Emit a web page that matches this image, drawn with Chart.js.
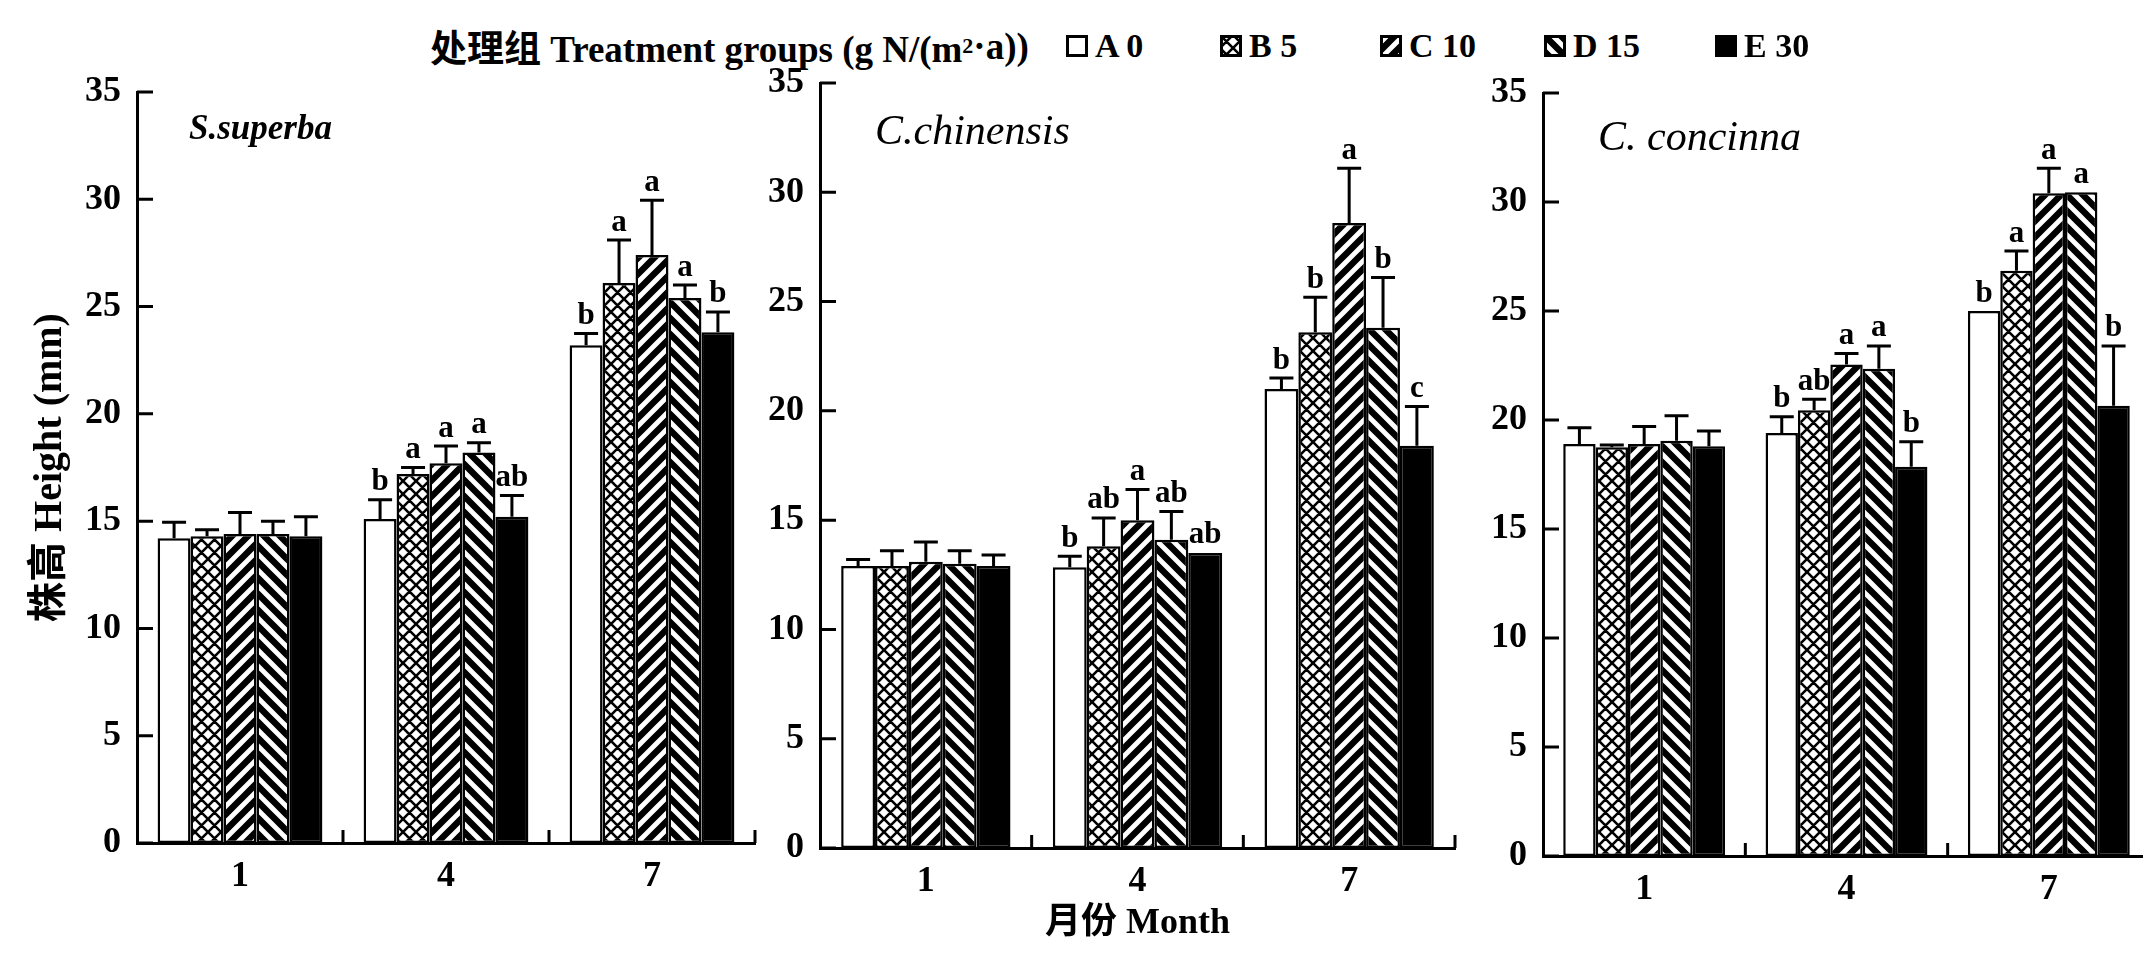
<!DOCTYPE html>
<html>
<head>
<meta charset="utf-8">
<title>株高 Height</title>
<script src="https://cdn.jsdelivr.net/npm/chart.js@4.4.0/dist/chart.umd.min.js"></script>
<style>
  html, body { margin: 0; padding: 0; background: #fff; width: 2143px; height: 953px; overflow: hidden; }
  canvas.panel { position: absolute; left: 0; top: 0; }
  #legend {
    position: absolute; left: 0; top: 24px; width: 2143px; height: 44px;
    font: bold 37px "Liberation Serif", "Noto Sans CJK SC", serif; color: #000; white-space: nowrap;
  }
  #legend > span { position: absolute; top: 0; height: 44px; display: flex; align-items: center; }
  #legend sup { font-size: 22px; line-height: 0; }
  #legend .item { gap: 7px; font-size: 34px; }
  #legend canvas { display: block; }
</style>
</head>
<body>
<div id="legend"></div>
<canvas id="p1" class="panel" width="2160" height="953"></canvas>
<canvas id="p2" class="panel" width="2160" height="953"></canvas>
<canvas id="p3" class="panel" width="2160" height="953"></canvas>

<script>
/* Plant height by month for three species under five N treatments.
   Values; error bars are +SE, letters are the
   significance groups printed above each bar. */
const MONTHS = ["1", "4", "7"];
const GROUPS = ["A 0", "B 5", "C 10", "D 15", "E 30"];
const Y_MIN = 0, Y_MAX = 35, Y_STEP = 5;

// S. superba — rows are groups A..E, columns months 1/4/7
const SS_MEAN = [[14.2, 15.1, 23.2], [14.3, 17.2, 26.1], [14.4, 17.7, 27.4], [14.4, 18.2, 25.4], [14.3, 15.2, 23.8]];
const SS_SE   = [[0.75, 0.9, 0.55], [0.3, 0.3, 2.0], [1.0, 0.8, 2.55], [0.6, 0.45, 0.6], [0.9, 1.0, 0.95]];
const SS_SIG  = [["", "b", "b"], ["", "a", "a"], ["", "a", "a"], ["", "a", "a"], ["", "ab", "b"]];

// C. chinensis
const CC_MEAN = [[12.9, 12.85, 21.0], [12.9, 13.8, 23.6], [13.1, 15.0, 28.6], [13.0, 14.1, 23.8], [12.9, 13.5, 18.4]];
const CC_SE   = [[0.3, 0.5, 0.5], [0.7, 1.3, 1.6], [0.9, 1.4, 2.5], [0.6, 1.3, 2.3], [0.5, 0, 1.8]];
const CC_SIG  = [["", "b", "b"], ["", "ab", "b"], ["", "a", "a"], ["", "ab", "b"], ["", "ab", "c"]];

// C. concinna
const CO_MEAN = [[18.9, 19.4, 25.0], [18.75, 20.45, 26.85], [18.9, 22.55, 30.4], [19.05, 22.35, 30.45], [18.8, 17.85, 20.65]];
const CO_SE   = [[0.75, 0.75, 0], [0.1, 0.5, 0.9], [0.8, 0.5, 1.15], [1.15, 1.05, 0], [0.7, 1.15, 2.75]];
const CO_SIG  = [["", "b", "b"], ["", "ab", "a"], ["", "a", "a"], ["", "a", "a"], ["", "b", "b"]];

const FONT = '"Liberation Serif", "Noto Sans CJK SC", serif';
const CANVAS_W = 2160, CANVAS_H = 953;
const Y_W = 110;   // fixed width of the y scale box
const X_H = 97;    // fixed height of the x scale box
const LEGEND_LEFT = [1066, 1220, 1380, 1544, 1715];   // swatch x of each legend entry

/* ---------- Fill patterns ---------- */

function makePattern(kind) {
  if (kind === "white") return "#fff";
  if (kind === "black") return "#000";
  const s = kind === "cross" ? 13 : 16;
  const c = document.createElement("canvas");
  c.width = s; c.height = s;
  const g = c.getContext("2d");
  g.fillStyle = "#fff";
  g.fillRect(0, 0, s, s);
  g.strokeStyle = "#000";
  g.beginPath();
  if (kind === "cross" || kind === "fwd") {
    g.moveTo(0, s); g.lineTo(s, 0);
    g.moveTo(-s / 2, s / 2); g.lineTo(s / 2, -s / 2);
    g.moveTo(s / 2, 1.5 * s); g.lineTo(1.5 * s, s / 2);
  }
  if (kind === "cross" || kind === "back") {
    g.moveTo(0, 0); g.lineTo(s, s);
    g.moveTo(-s / 2, s / 2); g.lineTo(s / 2, 1.5 * s);
    g.moveTo(s / 2, -s / 2); g.lineTo(1.5 * s, s / 2);
  }
  g.lineWidth = kind === "cross" ? 2.6 : 6.5;
  g.stroke();
  return g.createPattern(c, "repeat");
}

const FILL_KINDS = ["white", "cross", "fwd", "back", "black"];
const FILLS = FILL_KINDS.map(makePattern);

/* ---------- Plugins ---------- */

// +SE whiskers with a cap, and the significance letter above
const errorBarPlugin = {
  id: "errorBars",
  afterDatasetsDraw(chart) {
    const { ctx } = chart;
    const y = chart.scales.y;
    ctx.save();
    ctx.strokeStyle = "#000";
    ctx.fillStyle = "#000";
    ctx.lineWidth = 3;
    ctx.font = `bold 31px ${FONT}`;
    ctx.textAlign = "center";
    ctx.textBaseline = "bottom";
    chart.data.datasets.forEach((ds, i) => {
      chart.getDatasetMeta(i).data.forEach((bar, j) => {
        const mean = ds.data[j];
        const se = ds.se[j];
        const yTop = y.getPixelForValue(mean + se);
        if (se > 0) {
          ctx.beginPath();
          ctx.moveTo(bar.x, y.getPixelForValue(mean));
          ctx.lineTo(bar.x, yTop);
          ctx.moveTo(bar.x - 12, yTop);
          ctx.lineTo(bar.x + 12, yTop);
          ctx.stroke();
        }
        if (ds.sig[j]) ctx.fillText(ds.sig[j], bar.x, yTop - 2);
      });
    });
    ctx.restore();
  }
};

// tick marks point into the plot in the original, so draw them by hand
const inwardTicksPlugin = {
  id: "inwardTicks",
  afterDraw(chart) {
    const { ctx, chartArea } = chart;
    const { x, y } = chart.scales;
    ctx.save();
    ctx.strokeStyle = "#000";
    ctx.lineWidth = 3;
    ctx.beginPath();
    y.ticks.forEach((t, i) => {
      const py = y.getPixelForTick(i);
      ctx.moveTo(chartArea.left, py);
      ctx.lineTo(chartArea.left + 16, py);
    });
    const n = x.ticks.length;
    for (let i = 1; i <= n; i++) {
      const px = i < n
        ? (x.getPixelForTick(i - 1) + x.getPixelForTick(i)) / 2
        : x.getPixelForTick(n - 1) + (x.getPixelForTick(n - 1) - x.getPixelForTick(n - 2)) / 2;
      ctx.moveTo(px, chartArea.bottom);
      ctx.lineTo(px, chartArea.bottom - 13);
    }
    ctx.stroke();
    ctx.restore();
  }
};

// species name in the top-left corner of each panel
const panelLabelPlugin = {
  id: "panelLabel",
  afterDraw(chart, args, opts) {
    if (!opts.text) return;
    const { ctx, chartArea } = chart;
    ctx.save();
    ctx.font = opts.font;
    ctx.fillStyle = "#000";
    ctx.textAlign = "left";
    ctx.textBaseline = "middle";
    ctx.fillText(opts.text, chartArea.left + opts.dx, chartArea.top + opts.dy);
    ctx.restore();
  }
};

Chart.register(errorBarPlugin, inwardTicksPlugin, panelLabelPlugin);

/* ---------- Panels ---------- */

function buildPanel(id, area, means, ses, sigs, label, yTitle, xTitle) {
  return new Chart(document.getElementById(id), {
    type: "bar",
    data: {
      labels: MONTHS,
      datasets: GROUPS.map((g, i) => ({
        label: g,
        data: means[i],
        se: ses[i],
        sig: sigs[i],
        backgroundColor: FILLS[i],
        borderColor: "#000",
        borderWidth: 2.5,
        borderSkipped: false,
        barPercentage: 1.0,
        categoryPercentage: 0.8,
      })),
    },
    options: {
      responsive: false,
      animation: false,
      devicePixelRatio: 1,
      events: [],
      layout: {
        padding: {
          left: area.left - Y_W,
          right: CANVAS_W - area.right,
          top: area.top,
          bottom: CANVAS_H - area.bottom - X_H,
        },
      },
      plugins: {
        legend: { display: false },
        tooltip: { enabled: false },
        panelLabel: label,
      },
      scales: {
        x: {
          grid: { display: false, drawTicks: false },
          border: { display: true, color: "#000", width: 3 },
          ticks: { color: "#000", padding: 12, font: { family: FONT, size: 36, weight: "bold" } },
          title: {
            display: !!xTitle, text: xTitle || "", color: "#000", padding: 0,
            font: { family: FONT, size: 36, weight: "bold" },
          },
          afterFit: s => { s.height = X_H; },
        },
        y: {
          min: Y_MIN, max: Y_MAX,
          grid: { display: false, drawTicks: false },
          border: { display: true, color: "#000", width: 3 },
          ticks: { stepSize: Y_STEP, color: "#000", padding: 16, font: { family: FONT, size: 36, weight: "bold" } },
          title: {
            display: !!yTitle, text: yTitle || "", color: "#000", padding: 0,
            font: { family: FONT, size: 40, weight: "bold" },
          },
          afterFit: s => { s.width = Y_W; },
        },
      },
    },
  });
}

buildPanel("p1", { left: 137, right: 755, top: 92, bottom: 843 }, SS_MEAN, SS_SE, SS_SIG,
  { text: "S.superba", font: `italic bold 35px ${FONT}`, dx: 52, dy: 38 }, "株高 Height (mm)", null);
buildPanel("p2", { left: 820, right: 1455, top: 83, bottom: 848 }, CC_MEAN, CC_SE, CC_SIG,
  { text: "C.chinensis", font: `italic 42px ${FONT}`, dx: 55, dy: 50 }, null, "月份 Month");
buildPanel("p3", { left: 1543, right: 2150, top: 93, bottom: 856 }, CO_MEAN, CO_SE, CO_SIG,
  { text: "C. concinna", font: `italic 42px ${FONT}`, dx: 55, dy: 46 }, null, null);

/* ---------- Legend ---------- */

const legend = document.getElementById("legend");
const head = document.createElement("span");
head.style.left = "430px";
head.innerHTML = "处理组&nbsp;Treatment groups (g N/(m<sup>2</sup>·a))";
legend.appendChild(head);

GROUPS.forEach((g, i) => {
  const item = document.createElement("span");
  item.className = "item";
  item.style.left = LEGEND_LEFT[i] + "px";
  const sw = document.createElement("canvas");
  sw.width = 22; sw.height = 22;
  const c = sw.getContext("2d");
  c.fillStyle = FILLS[i];
  c.fillRect(0, 0, 22, 22);
  c.strokeStyle = "#000";
  c.lineWidth = 3;
  c.strokeRect(1.5, 1.5, 19, 19);
  const txt = document.createElement("span");
  txt.textContent = g;
  item.appendChild(sw);
  item.appendChild(txt);
  legend.appendChild(item);
});
</script>
</body>
</html>
